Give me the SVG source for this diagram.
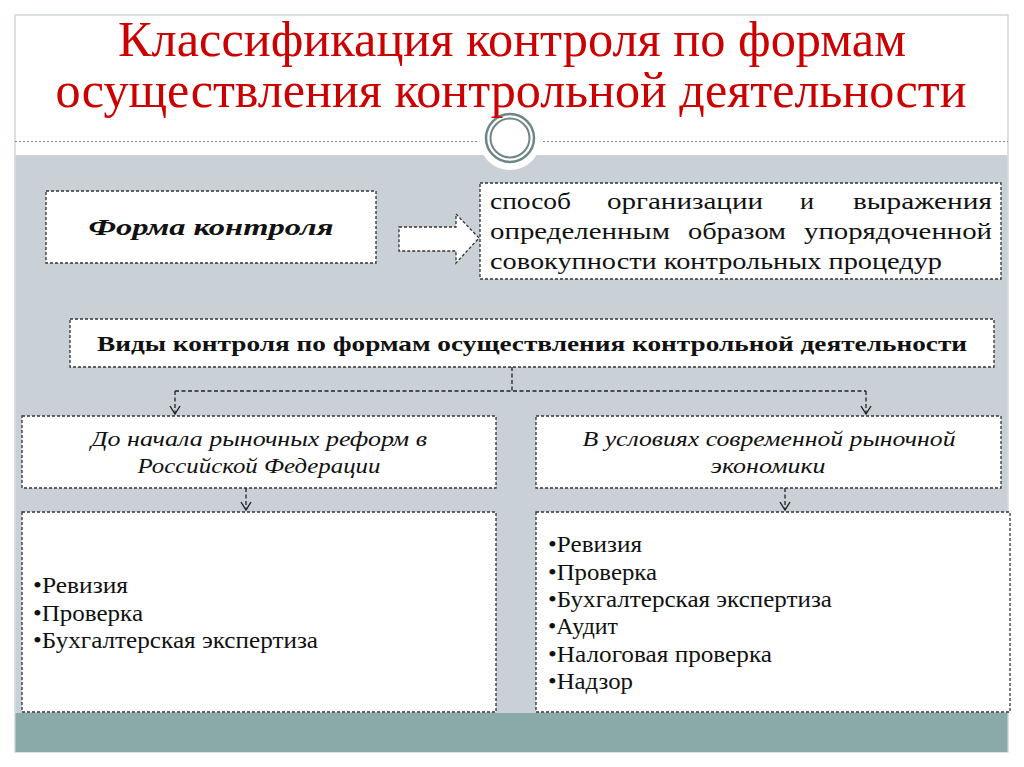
<svg xmlns="http://www.w3.org/2000/svg" width="1024" height="767" viewBox="0 0 1024 767">
<defs>
<style>
.box{fill:#fff;stroke:#333;stroke-width:1.3;stroke-dasharray:3 2}
.conn{fill:none;stroke:#222;stroke-width:1.3;stroke-dasharray:4 2.5}
.ah{fill:none;stroke:#222;stroke-width:1.4}
.title{font-family:"Liberation Serif",serif;font-size:50px;fill:#cc0000;text-anchor:middle}
.t{font-family:"Liberation Serif",serif;font-size:24px;fill:#111}
.li{font-family:"Liberation Serif",serif;font-size:23px;fill:#111}
.it{font-family:"Liberation Serif",serif;font-size:21px;font-style:italic;fill:#111;text-anchor:middle}
</style>
</defs>
<rect x="0" y="0" width="1024" height="767" fill="#fff"/>
<rect x="15" y="15" width="993" height="737" fill="#fff" stroke="#c4ccd0" stroke-width="1.2"/>
<rect x="15.5" y="155" width="992" height="558" fill="#c9d1d6"/>
<rect x="15.5" y="713" width="992" height="39" fill="#89aaa9"/>
<line x1="15" y1="141.5" x2="1008" y2="141.5" stroke="#888" stroke-width="1" stroke-dasharray="2 2"/>
<g id="ornament">
<circle cx="510" cy="139" r="31" fill="#fff"/>
<circle cx="510" cy="138" r="24" fill="none" stroke="#6f8686" stroke-width="2.5"/>
<circle cx="510" cy="138" r="19.5" fill="none" stroke="#6f8686" stroke-width="2"/>
</g>
<g id="title">
<text class="title" x="512" y="56" textLength="788" lengthAdjust="spacingAndGlyphs">Классификация контроля по формам</text>
<text class="title" x="511" y="107" textLength="911" lengthAdjust="spacingAndGlyphs">осуществления контрольной деятельности</text>
</g>
<g id="forma">
<rect class="box" x="46" y="191" width="330" height="72"/>
<text x="211" y="235" font-family="Liberation Serif,serif" font-size="23" font-weight="bold" font-style="italic" text-anchor="middle" textLength="245" lengthAdjust="spacingAndGlyphs" fill="#111">Форма контроля</text>
</g>
<g id="definition">
<rect class="box" x="480" y="183" width="521" height="96"/>
<text class="t" x="490" y="209" textLength="81" lengthAdjust="spacingAndGlyphs">способ</text>
<text class="t" x="607" y="209" textLength="156" lengthAdjust="spacingAndGlyphs">организации</text>
<text class="t" x="800" y="209" textLength="14" lengthAdjust="spacingAndGlyphs">и</text>
<text class="t" x="853" y="209" textLength="139" lengthAdjust="spacingAndGlyphs">выражения</text>
<text class="t" x="490" y="239" textLength="180" lengthAdjust="spacingAndGlyphs">определенным</text>
<text class="t" x="688" y="239" textLength="98" lengthAdjust="spacingAndGlyphs">образом</text>
<text class="t" x="804" y="239" textLength="188" lengthAdjust="spacingAndGlyphs">упорядоченной</text>
<text class="t" x="490" y="269" textLength="452" lengthAdjust="spacingAndGlyphs">совокупности контрольных процедур</text>
</g>
<g id="vidy">
<rect class="box" x="70" y="319" width="924" height="48"/>
<text x="532" y="351" font-family="Liberation Serif,serif" font-size="21" font-weight="bold" text-anchor="middle" textLength="870" lengthAdjust="spacingAndGlyphs" fill="#111">Виды контроля по формам осуществления контрольной деятельности</text>
</g>
<g id="before">
<rect class="box" x="22" y="416" width="474" height="72"/>
<text class="it" x="259" y="446" textLength="336" lengthAdjust="spacingAndGlyphs">До начала рыночных реформ в</text>
<text class="it" x="259" y="473" textLength="243" lengthAdjust="spacingAndGlyphs">Российской Федерации</text>
</g>
<g id="modern">
<rect class="box" x="536" y="416" width="465" height="72"/>
<text class="it" x="769" y="446" textLength="373" lengthAdjust="spacingAndGlyphs">В условиях современной рыночной</text>
<text class="it" x="768" y="473" textLength="115" lengthAdjust="spacingAndGlyphs">экономики</text>
</g>
<g id="list-before">
<rect class="box" x="22" y="512" width="474" height="200"/>
<text class="li" x="33" y="593" textLength="95" lengthAdjust="spacingAndGlyphs">•Ревизия</text>
<text class="li" x="33" y="621" textLength="110" lengthAdjust="spacingAndGlyphs">•Проверка</text>
<text class="li" x="33" y="648" textLength="285" lengthAdjust="spacingAndGlyphs">•Бухгалтерская экспертиза</text>
</g>
<g id="list-modern">
<rect class="box" x="536" y="512" width="474" height="200"/>
<text class="li" x="548" y="552" textLength="94" lengthAdjust="spacingAndGlyphs">•Ревизия</text>
<text class="li" x="548" y="580" textLength="109" lengthAdjust="spacingAndGlyphs">•Проверка</text>
<text class="li" x="548" y="607" textLength="284" lengthAdjust="spacingAndGlyphs">•Бухгалтерская экспертиза</text>
<text class="li" x="548" y="634" textLength="70" lengthAdjust="spacingAndGlyphs">•Аудит</text>
<text class="li" x="548" y="662" textLength="224" lengthAdjust="spacingAndGlyphs">•Налоговая проверка</text>
<text class="li" x="548" y="689" textLength="85" lengthAdjust="spacingAndGlyphs">•Надзор</text>
</g>
<g id="connectors">
<path d="M399,227 H456 V214 L479,238 L456,263 V251 H399 Z" fill="#fff" stroke="#333" stroke-width="1.3" stroke-dasharray="3 2"/>
<path class="conn" d="M512,367 V391 M175,391 H866 M175,391 V414 M866,391 V414"/>
<path class="ah" d="M170,406 L175,414 L180,406 M861,406 L866,414 L871,406"/>
<path class="conn" d="M246,488 V510 M785,488 V510"/>
<path class="ah" d="M241,502 L246,510 L251,502 M780,502 L785,510 L790,502"/>
</g>
</svg>
